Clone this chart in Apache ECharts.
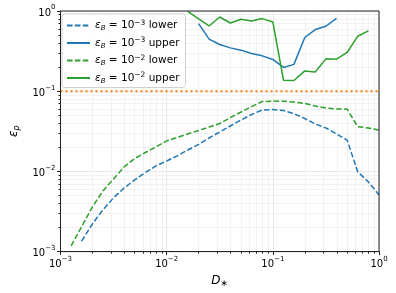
<!DOCTYPE html>
<html>
<head>
<meta charset="utf-8">
<script src="https://cdn.jsdelivr.net/npm/echarts@6/dist/echarts.min.js"></script>
<style>html,body{margin:0;padding:0;background:#fff}#c{width:396px;height:293px}</style>
</head>
<body>
<div id="c"></div>
<script>
// D_* sample positions (shared grid)
var D = [0.00126,0.00158,0.002,0.00251,0.00316,0.00398,0.00501,0.00631,0.00794,0.01,
         0.0126,0.0158,0.02,0.0251,0.0316,0.0398,0.0501,0.0631,0.0794,0.1,
         0.126,0.158,0.2,0.251,0.316,0.398,0.501,0.631,0.794,1.0];
// eps_B = 1e-3 lower (starts at D[1])
var blueLower = [0.00135,0.00222,0.00332,0.00468,0.00623,0.00784,0.00972,0.0117,0.0135,
                 0.0156,0.0185,0.0217,0.0261,0.0310,0.0368,0.0437,0.0512,0.0582,0.0590,
                 0.0574,0.0526,0.0456,0.0390,0.0348,0.0293,0.0246,0.00986,0.00740,0.00510];
var blueLowerStart = 1;
// eps_B = 1e-3 upper (starts at D[12])
var blueUpper = [0.697,0.445,0.382,0.347,0.325,0.295,0.276,0.249,0.198,0.216,0.467,0.587,0.645,0.811];
var blueUpperStart = 12;
// eps_B = 1e-2 lower (starts at D[0])
var greenLower = [0.00118,0.00204,0.00362,0.00571,0.00806,0.0114,0.0145,0.0172,0.0202,0.0240,
                  0.0265,0.0293,0.0324,0.0358,0.0395,0.0469,0.0550,0.0643,0.0743,0.0753,
                  0.0747,0.0732,0.0705,0.0653,0.0616,0.0598,0.0598,0.0361,0.0348,0.0328];
var greenLowerStart = 0;
// eps_B = 1e-2 upper (starts at D[11])
var greenUpper = [0.99,0.80,0.651,0.842,0.709,0.788,0.751,0.804,0.730,0.137,0.136,0.179,0.174,0.253,0.251,0.304,0.485,0.564];
var greenUpperStart = 11;
// horizontal reference level
var refLevel = 0.1;
var xRange = [0.001, 1];
var yRange = [0.001, 1];
var seriesNames = ['b3lower','b3upper','b2lower','b2upper'];
var legendExp = {b3lower:'\u22123', b3upper:'\u22123', b2lower:'\u22122', b2upper:'\u22122'};
var legendWord = {b3lower:'lower', b3upper:'upper', b2lower:'lower', b2upper:'upper'};

function pairs(vals, start){ return vals.map(function(v,i){ return [D[start+i], v]; }); }
function expLabel(v){
  var e = Math.round(Math.log10(v));
  var s = e < 0 ? '\u2212' + (-e) : String(e);
  return '{b|10}{s|' + s + '}';
}
var FONT = 'DejaVu Sans';
var tickRich = {
  b:{fontFamily:FONT,fontSize:10,color:'#000',padding:[4,0,0,0]},
  s:{fontFamily:FONT,fontSize:7,color:'#000',verticalAlign:'top',padding:[0,0,0,0]}
};
var blue='#1f77b4', green='#2ca02c', orange='#ff7f0e';
var dash=[5.5,2.4];

var chart = echarts.init(document.getElementById('c'), null, {renderer:'canvas'});
chart.setOption({
  animation:false,
  backgroundColor:'#fff',
  grid:{left:57,right:17,top:11,bottom:41,show:true,borderColor:'#222',borderWidth:1,backgroundColor:'transparent',z:3},
  xAxis:{
    type:'log', logBase:10, min:xRange[0], max:xRange[1],
    name:'{i|D}{s|\u2217}', nameLocation:'middle', nameGap:20,
    nameTextStyle:{rich:{i:{fontFamily:FONT,fontSize:12,fontStyle:'italic',color:'#000'},
                         s:{fontFamily:FONT,fontSize:9,color:'#000',verticalAlign:'bottom',padding:[6,0,0,0]}}},
    axisLine:{show:true,onZero:false,lineStyle:{color:'#222',width:1}},
    axisTick:{show:true,inside:false,length:3.5,lineStyle:{color:'#222'}},
    minorTick:{show:true,splitNumber:9,length:2,lineStyle:{color:'#222'}},
    axisLabel:{formatter:expLabel,rich:tickRich,margin:4},
    splitLine:{show:true,lineStyle:{color:'#e3e3e3',width:0.8}},
    minorSplitLine:{show:true,lineStyle:{color:'#efefef',width:0.8}}
  },
  yAxis:{
    type:'log', logBase:10, min:yRange[0], max:yRange[1],
    name:'{i|\u03b5}{s|p}', nameLocation:'middle', nameGap:40, nameRotate:90,
    nameTextStyle:{rich:{i:{fontFamily:FONT,fontSize:12,fontStyle:'italic',color:'#000'},
                         s:{fontFamily:FONT,fontSize:8,fontStyle:'italic',color:'#000',verticalAlign:'bottom',padding:[5,0,0,0]}}},
    axisLine:{show:true,onZero:false,lineStyle:{color:'#222',width:1}},
    axisTick:{show:true,inside:false,length:3.5,lineStyle:{color:'#222'}},
    minorTick:{show:true,splitNumber:9,length:2,lineStyle:{color:'#222'}},
    axisLabel:{formatter:expLabel,rich:tickRich,margin:5},
    splitLine:{show:true,lineStyle:{color:'#e3e3e3',width:0.8}},
    minorSplitLine:{show:true,lineStyle:{color:'#efefef',width:0.8}}
  },
  legend:{
    show:true, left:62, top:14, orient:'vertical',
    data:seriesNames,
    itemWidth:23, itemHeight:10, itemGap:4.5,
    itemStyle:{opacity:0},
    backgroundColor:'rgba(255,255,255,0.85)', borderColor:'#d0d0d0', borderWidth:1, borderRadius:3,
    padding:[5,6,3,4],
    formatter:function(n){
      return '{i|\u03b5}{sb|B}{t| = 10}{sp|' + legendExp[n] + '}{t| ' + legendWord[n] + '}';
    },
    textStyle:{lineHeight:13,rich:{
      i:{fontFamily:FONT,fontSize:10.5,fontStyle:'italic',color:'#000',lineHeight:13},
      sb:{fontFamily:FONT,fontSize:7,fontStyle:'italic',color:'#000',verticalAlign:'bottom',padding:[3,0,0,0],lineHeight:13},
      t:{fontFamily:FONT,fontSize:10.5,color:'#000',lineHeight:13},
      sp:{fontFamily:FONT,fontSize:7.5,color:'#000',verticalAlign:'top',padding:[0,0,3,0],lineHeight:13}
    }}
  },
  series:[
    {name:'b3lower',type:'line',data:pairs(blueLower,blueLowerStart),symbol:'none',
     lineStyle:{color:blue,width:1.5,type:dash},itemStyle:{color:blue},z:2},
    {name:'b3upper',type:'line',data:pairs(blueUpper,blueUpperStart),symbol:'none',
     lineStyle:{color:blue,width:1.5,type:'solid'},itemStyle:{color:blue},z:2},
    {name:'b2lower',type:'line',data:pairs(greenLower,greenLowerStart),symbol:'none',
     lineStyle:{color:green,width:1.5,type:dash},itemStyle:{color:green},z:2},
    {name:'b2upper',type:'line',data:pairs(greenUpper,greenUpperStart),symbol:'none',
     lineStyle:{color:green,width:1.5,type:'solid'},itemStyle:{color:green},z:2},
    {name:'ref',type:'line',data:[[xRange[0],refLevel],[xRange[1],refLevel]],symbol:'none',
     lineStyle:{color:orange,width:2,type:[2,3]},itemStyle:{color:orange},z:2}
  ]
});
</script>
</body>
</html>
